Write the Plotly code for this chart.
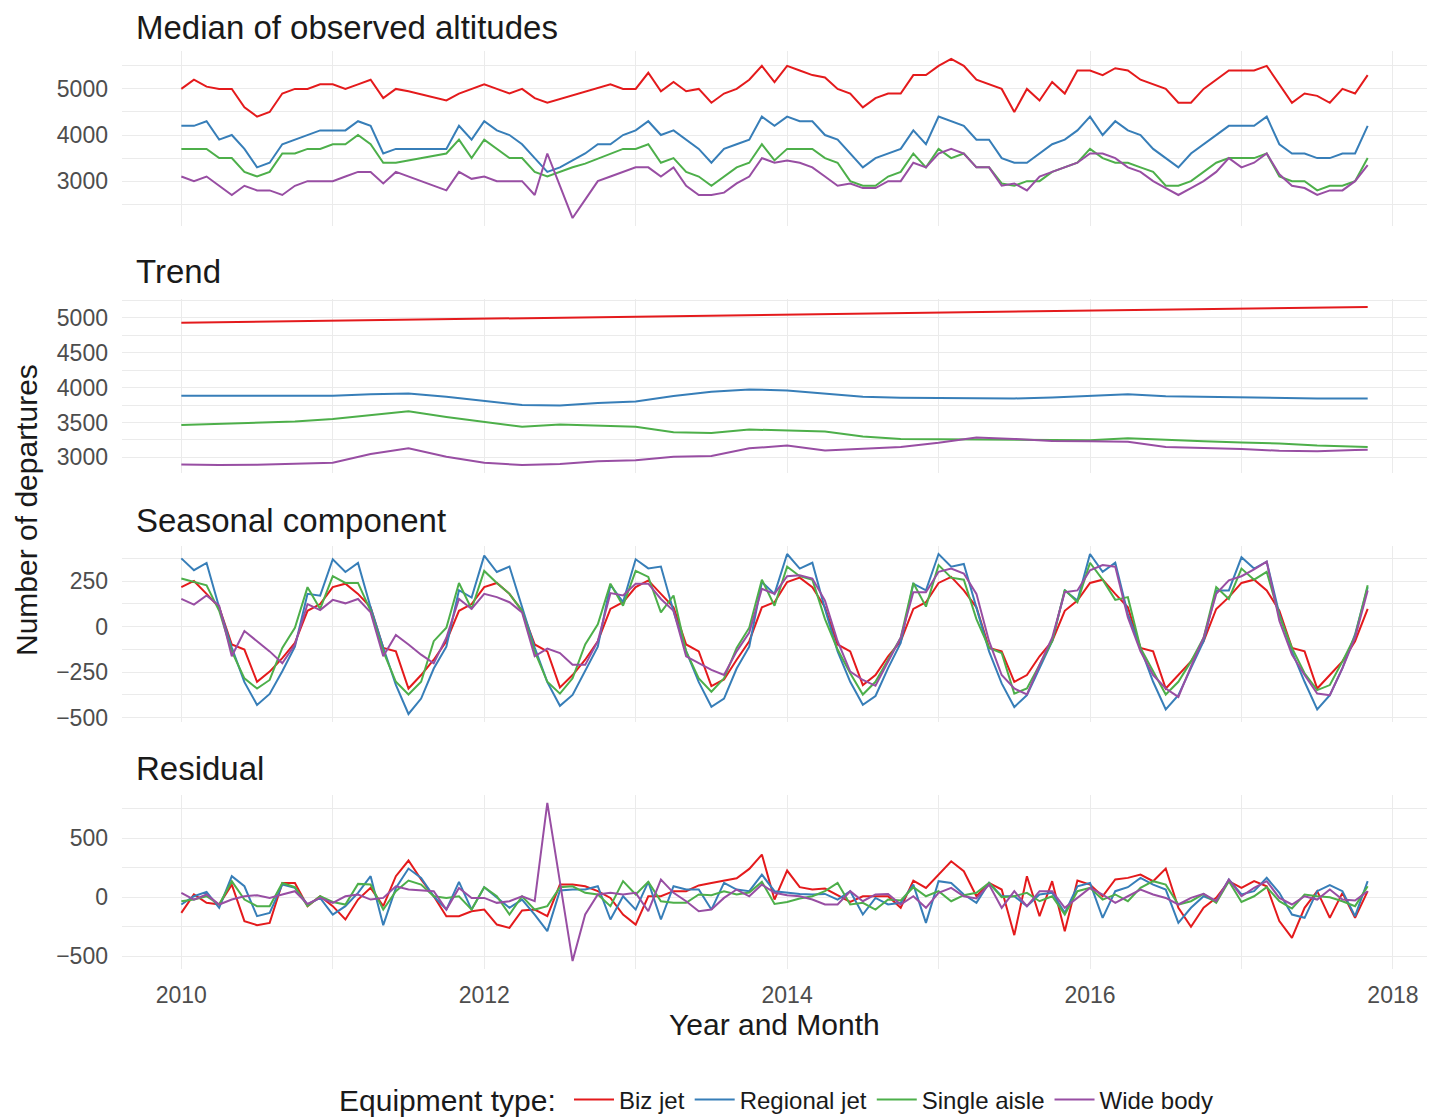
import plotly.graph_objects as go

# ---------------- data (monthly, Jan 2010 .. Nov 2017) ----------------
n_months = 95
series_names = ["Biz jet", "Regional jet", "Single aisle", "Wide body"]
series_colors = ["#E41A1C", "#377EB8", "#4DAF4A", "#984EA3"]

biz_obs = [5000, 5200, 5050, 5000, 5000, 4600, 4400, 4500, 4900, 5000, 5000, 5100,
           5100, 5000, 5100, 5200, 4800, 5000, 4950, 4880, 4810, 4750, 4900, 5000,
           5100, 5000, 4900, 5000, 4800, 4700, 4780, 4860, 4940, 5020, 5100, 5000,
           5000, 5350, 4950, 5150, 4950, 5000, 4700, 4900, 5000, 5200, 5500, 5150,
           5500, 5400, 5300, 5250, 5000, 4900, 4600, 4800, 4900, 4900, 5300, 5300,
           5500, 5650, 5500, 5200, 5100, 5000, 4500, 5000, 4750, 5150, 4900, 5400,
           5400, 5300, 5450, 5400, 5200, 5100, 5000, 4700, 4700, 5000, 5200, 5400,
           5400, 5400, 5500, 5100, 4700, 4900, 4850, 4700, 5000, 4900, 5300]
reg_obs = [4200, 4200, 4300, 3900, 4000, 3700, 3300, 3400, 3800, 3900, 4000, 4100,
           4100, 4100, 4300, 4200, 3600, 3700, 3700, 3700, 3700, 3700, 4200, 3900,
           4300, 4100, 4000, 3800, 3500, 3200, 3300, 3450, 3600, 3800, 3800, 4000,
           4100, 4300, 4000, 4100, 3900, 3700, 3400, 3700, 3800, 3900, 4400, 4200,
           4400, 4300, 4300, 4000, 3900, 3600, 3300, 3500, 3600, 3700, 4100, 3800,
           4400, 4300, 4200, 3900, 3900, 3500, 3400, 3400, 3600, 3800, 3900, 4100,
           4400, 4000, 4300, 4100, 4000, 3700, 3500, 3300, 3600, 3800, 4000, 4200,
           4200, 4200, 4400, 3800, 3600, 3600, 3500, 3500, 3600, 3600, 4200]
sa_obs = [3700, 3700, 3700, 3500, 3500, 3200, 3100, 3200, 3600, 3600, 3700, 3700,
          3800, 3800, 4000, 3800, 3400, 3400, 3450, 3500, 3550, 3600, 3900, 3500,
          3900, 3700, 3500, 3500, 3200, 3100, 3200, 3300, 3380, 3490, 3600, 3700,
          3700, 3800, 3400, 3500, 3200, 3100, 2900, 3100, 3300, 3400, 3800, 3450,
          3700, 3700, 3700, 3500, 3400, 3000, 2900, 2900, 3100, 3200, 3600, 3300,
          3700, 3500, 3600, 3300, 3300, 2950, 2900, 3000, 3000, 3200, 3300, 3400,
          3700, 3500, 3400, 3400, 3300, 3200, 2900, 2900, 3000, 3200, 3400, 3500,
          3500, 3500, 3600, 3100, 3000, 3000, 2800, 2900, 2900, 3000, 3500]
wb_obs = [3100, 3000, 3100, 2900, 2700, 2900, 2800, 2800, 2700, 2900, 3000, 3000,
          3000, 3100, 3200, 3200, 2950, 3200, 3100, 3000, 2900, 2800, 3200, 3050,
          3100, 3000, 3000, 3000, 2700, 3600, 2900, 2200, 2600, 3000, 3100, 3200,
          3300, 3300, 3100, 3300, 2900, 2700, 2700, 2750, 2950, 3100, 3500, 3400,
          3450, 3400, 3300, 3100, 2900, 2950, 2850, 2850, 3000, 3000, 3400, 3300,
          3600, 3700, 3600, 3300, 3300, 2900, 2950, 2800, 3100, 3200, 3300, 3400,
          3600, 3600, 3500, 3300, 3200, 3000, 2850, 2700, 2850, 3000, 3200, 3500,
          3300, 3400, 3600, 3150, 2900, 2850, 2700, 2800, 2800, 3000, 3350]

# trend read at quarterly months (0, 3, ..., 93) plus the last month (94)
trend_months = [0, 3, 6, 9, 12, 15, 18, 21, 24, 27, 30, 33, 36, 39, 42, 45,
                48, 51, 54, 57, 60, 63, 66, 69, 72, 75, 78, 81, 84, 87, 90, 93, 94]
biz_trend = [4930, 4937, 4944, 4951, 4959, 4966, 4973, 4980, 4988, 4995, 5002,
             5010, 5017, 5024, 5031, 5039, 5046, 5053, 5060, 5068, 5075, 5082,
             5089, 5097, 5104, 5111, 5118, 5126, 5133, 5140, 5147, 5155, 5157]
reg_trend = [3885, 3885, 3885, 3885, 3885, 3905, 3915, 3870, 3810, 3750, 3745,
             3780, 3800, 3880, 3940, 3975, 3960, 3910, 3870, 3855, 3855, 3855,
             3845, 3860, 3885, 3905, 3875, 3865, 3860, 3845, 3845, 3845, 3845]
sa_trend = [3465, 3480, 3505, 3515, 3550, 3600, 3660, 3580, 3510, 3440, 3470,
            3460, 3440, 3360, 3350, 3400, 3390, 3370, 3300, 3265, 3260, 3255,
            3250, 3240, 3245, 3275, 3250, 3230, 3215, 3200, 3170, 3155, 3150]
wb_trend = [2900, 2890, 2895, 2905, 2925, 3050, 3130, 3010, 2925, 2890, 2905,
            2945, 2960, 3010, 3020, 3130, 3170, 3100, 3130, 3150, 3210, 3285,
            3265, 3235, 3230, 3225, 3150, 3140, 3120, 3095, 3090, 3105, 3110]

biz_seas = [217, 251, 180, 106, -98, -126, -303, -247, -173, -89, 87, 124,
            217, 236, 180, 106, -117, -136, -340, -266, -182, -80, 87, 124,
            217, 240, 180, 87, -98, -136, -334, -266, -182, -80, 97, 134,
            217, 254, 180, 106, -98, -136, -327, -290, -182, -80, 106, 134,
            245, 269, 217, 106, -98, -136, -321, -266, -163, -80, 97, 134,
            240, 273, 199, 106, -117, -136, -303, -266, -163, -80, 87, 143,
            240, 258, 180, 106, -117, -136, -340, -266, -191, -80, 97, 162,
            240, 258, 199, 87, -117, -136, -340, -266, -191, -80, 97]
reg_seas = [375, 310, 350, 105, -115, -305, -430, -370, -245, -110, 180, 170,
            370, 300, 350, 105, -115, -320, -480, -395, -230, -110, 200, 160,
            390, 300, 330, 105, -115, -305, -435, -375, -245, -110, 230, 135,
            370, 320, 330, 85, -135, -305, -440, -395, -230, -110, 245, 180,
            399, 319, 351, 97, -136, -303, -429, -381, -228, -89, 236, 199,
            399, 329, 344, 106, -136, -312, -442, -377, -228, -80, 199, 143,
            399, 301, 351, 69, -117, -303, -455, -377, -228, -80, 199, 199,
            381, 319, 357, 69, -136, -303, -455, -377, -228, -43, 217]
sa_seas = [264, 245, 227, 87, -136, -284, -340, -293, -117, -6, 217, 97,
           277, 240, 240, 87, -136, -303, -373, -303, -80, -6, 240, 97,
           306, 240, 180, 87, -136, -303, -368, -284, -98, 13, 236, 115,
           306, 273, 78, 171, -136, -284, -358, -284, -117, -6, 258, 115,
           329, 277, 258, 41, -126, -256, -373, -303, -182, -61, 240, 110,
           338, 269, 258, 41, -117, -145, -368, -340, -210, -80, 202, 134,
           351, 258, 147, 162, -117, -247, -373, -303, -191, -61, 217, 152,
           319, 258, 301, 59, -117, -256, -349, -321, -191, -52, 227]
wb_seas = [152, 121, 171, 115, -163, -24, -80, -136, -201, -98, 124, 91,
           147, 128, 152, 78, -163, -46, -98, -154, -201, -61, 152, 97,
           180, 162, 134, 78, -163, -121, -145, -210, -210, -80, 184, 171,
           236, 236, 152, 87, -163, -201, -238, -266, -136, -33, 208, 180,
           277, 282, 264, 143, -80, -247, -293, -325, -191, -61, 189, 189,
           301, 319, 292, 180, -80, -266, -340, -373, -210, -61, 189, 199,
           310, 338, 329, 50, -136, -266, -340, -386, -219, -61, 180, 254,
           277, 314, 357, 32, -154, -266, -368, -377, -228, -61, 199]

biz_res = [-133, 23, -48, -62, 107, -203, -237, -218, 121, 121, -76, 8,
           -76, -189, -20, 79, -76, 178, 311, 150, 8, -161, -161, -119,
           -105, -232, -260, -113, -105, -161, 107, 107, 93, 51, -6, -147,
           -232, 8, 8, 51, 51, 100, 120, 140, 160, 240, 362, -20,
           226, 85, 65, 73, 17, -40, 8, 8, 8, -90, 141, 79,
           192, 305, 220, 8, 121, 65, -322, 178, -161, 136, -288, 141,
           107, 8, 150, 164, 192, 136, 243, -90, -251, -90, -6, 136,
           79, 136, 93, -203, -345, -90, 51, -175, 37, -175, 51]
reg_res = [-62, 8, 45, -90, 178, 93, -161, -133, 107, 79, -62, -6,
           -147, -76, 37, 178, -237, 79, 243, 164, 8, -105, 130, -105,
           85, -6, -90, -20, -147, -288, 57, 65, 65, 93, -189, 8,
           -105, 130, -189, 93, 65, 65, -105, 121, 65, 51, 192, 51,
           37, 28, 23, 28, -20, 51, -147, -6, -62, -48, 107, -218,
           136, 121, 23, -48, 121, 8, 8, -76, 23, 37, -133, 93,
           121, -175, 51, 85, 164, 107, 65, -218, -90, 8, -34, 150,
           23, 51, 164, 37, -147, -175, 51, 102, 51, -161, 136]
sa_res = [-34, -20, 8, -62, 136, -20, -76, -76, 121, 85, -76, 8,
          -40, -62, 113, 107, -105, 51, 141, 107, 8, -6, 8, -105,
          85, 8, -147, 8, -105, -76, 85, 93, 37, 23, -76, 136,
          23, 130, -34, -48, -48, 23, 17, 51, 23, 40, 130, -57,
          -40, -11, 8, 51, 121, -62, -48, -105, -20, -28, 85, 8,
          51, -34, 17, 37, 121, 0, 8, 37, -34, 8, -147, 51,
          79, -20, 23, -34, 79, 136, 107, -62, -34, 28, -48, 136,
          -40, 8, 85, -34, -96, 23, 8, 0, -34, -76, 93]
wb_res = [37, -20, 23, -62, -20, 8, 17, -6, 23, 51, -57, -6,
          -48, 8, 23, -20, -6, 93, 65, 57, 51, -105, 79, -6,
          -6, -48, -34, 8, -34, 800, 130, -542, -147, 23, 37, 23,
          37, -119, 150, 37, -34, -119, -105, -6, 65, 8, 107, 37,
          17, 8, -20, -62, -62, 51, -34, 23, 28, -62, 8, -90,
          37, 79, 8, -11, 107, -90, 51, -76, 51, 51, -90, -6,
          79, 23, -48, 8, 65, 23, -6, -62, -6, 28, -34, 150,
          8, 79, 136, -6, -62, 8, -20, 65, -20, -28, 51]

panel_titles = ["Median of observed altitudes", "Trend", "Seasonal component", "Residual"]
x_tick_labels = ["2010", "2012", "2014", "2016", "2018"]

# ---------------- figure ----------------
def to_year(months):
    return [2010 + m / 12 for m in months]

x_month = to_year(range(n_months))
x_trend = to_year(trend_months)

panels = [
    (x_month, [biz_obs, reg_obs, sa_obs, wb_obs]),
    (x_trend, [biz_trend, reg_trend, sa_trend, wb_trend]),
    (x_month, [biz_seas, reg_seas, sa_seas, wb_seas]),
    (x_month, [biz_res, reg_res, sa_res, wb_res]),
]

fig = go.Figure()
for p, (xs, group) in enumerate(panels):
    for s, ys in enumerate(group):
        fig.add_trace(go.Scatter(
            x=xs, y=ys, mode="lines", name=series_names[s],
            line=dict(color=series_colors[s], width=2),
            showlegend=(p == 0), legendgroup=series_names[s],
            xaxis="x" if p == 0 else f"x{p+1}",
            yaxis="y" if p == 0 else f"y{p+1}",
        ))

# the page body has an 8 px margin, so the figure sits 8 px right/down
OFF = 8
W, H = 1437 - OFF, 1118 - OFF
plot_l, plot_r, plot_t, plot_b = 122, 1427, 51, 969      # target pixels in window
ml, mr = plot_l - OFF, W - (plot_r - OFF)
mt, mb = plot_t - OFF, H - (plot_b - OFF)
plot_h = plot_b - plot_t
plot_w = plot_r - plot_l
def py(px):  # window pixel y -> paper y
    return (plot_b - px) / plot_h
def pxp(px):  # window pixel x -> paper x
    return (px - plot_l) / plot_w

domains = [(226, 51), (473, 299), (722, 546), (969, 795)]
dticks = [1000, 500, 250, 500]
grid_col = "#EBEBEB"
tick_font = dict(family="Liberation Sans, Arial, sans-serif", size=23, color="#4D4D4D")

xr0 = 2010 - 0.05 * (x_month[-1] - 2010)
xr1 = x_month[-1] + 0.05 * (x_month[-1] - 2010)

layout = dict(
    width=W, height=H,
    margin=dict(l=ml, r=mr, t=mt, b=mb, autoexpand=False),
    plot_bgcolor="white", paper_bgcolor="white",
    font=dict(family="Liberation Sans, Arial, sans-serif", color="#1A1A1A"),
    showlegend=True,
    legend=dict(orientation="h", x=pxp(569), xanchor="left", y=py(1100), yanchor="middle",
                font=dict(size=24, color="#1A1A1A"), itemwidth=40, tracegroupgap=0),
)

for p in range(4):
    xs, group = panels[p]
    allv = [v for ys in group for v in ys]
    lo, hi = min(allv), max(allv)
    pad = 0.05 * (hi - lo)
    bot, top = domains[p]
    ykey = "yaxis" if p == 0 else f"yaxis{p+1}"
    xkey = "xaxis" if p == 0 else f"xaxis{p+1}"
    layout[ykey] = dict(
        domain=[py(bot), py(top)], range=[lo - pad, hi + pad],
        anchor="x" if p == 0 else f"x{p+1}",
        dtick=dticks[p], tick0=0, showgrid=True, gridcolor=grid_col, gridwidth=1.4,
        minor=dict(dtick=dticks[p] / 2, tick0=0, showgrid=True, gridcolor=grid_col, gridwidth=0.8),
        zeroline=False, showline=False, ticks="", tickfont=tick_font,
        ticklabelstandoff=13, automargin=False,
    )
    layout[xkey] = dict(
        domain=[0, 1], range=[xr0, xr1],
        anchor="y" if p == 0 else f"y{p+1}",
        tickmode="array", tickvals=[int(t) for t in x_tick_labels], ticktext=x_tick_labels,
        showgrid=True, gridcolor=grid_col, gridwidth=1.4,
        minor=dict(tickvals=[2011, 2013, 2015, 2017], showgrid=True, gridcolor=grid_col, gridwidth=0.8),
        zeroline=False, showline=False, ticks="",
        showticklabels=(p == 3), tickfont=tick_font, ticklabelstandoff=10, automargin=False,
    )

fig.update_layout(**layout)

title_y = [28, 271, 520, 768]
for t, yy in zip(panel_titles, title_y):
    fig.add_annotation(text=t, xref="paper", yref="paper", x=pxp(134),
                       y=py(yy), xanchor="left", yanchor="middle", showarrow=False,
                       font=dict(size=33, color="#1A1A1A"))

fig.add_annotation(text="Year and Month", xref="paper", yref="paper",
                   x=pxp(774), y=py(1025), xanchor="center", yanchor="middle",
                   showarrow=False, font=dict(size=30, color="#1A1A1A"))
fig.add_annotation(text="Number of departures", xref="paper", yref="paper",
                   x=pxp(26), y=py(510), xanchor="center", yanchor="middle",
                   textangle=-90, showarrow=False, font=dict(size=30, color="#1A1A1A"))
fig.add_annotation(text="Equipment type:", xref="paper", yref="paper",
                   x=pxp(558), y=py(1100), xanchor="right", yanchor="middle",
                   showarrow=False, font=dict(size=30, color="#1A1A1A"))

fig.write_html("out.html")
